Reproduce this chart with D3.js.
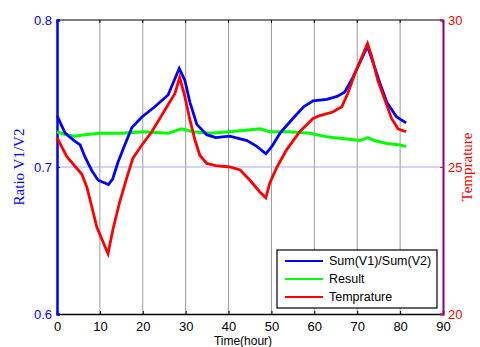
<!DOCTYPE html>
<html>
<head>
<meta charset="utf-8">
<script src="https://cdn.jsdelivr.net/npm/d3@7"></script>
<style>
  body { margin: 0; background: #fff; }
  text { font-family: "Liberation Sans", Arial, sans-serif; }
</style>
</head>
<body>
<div id="chart"></div>
<script>
// time axis ticks
var timeTicks = [0, 10, 20, 30, 40, 50, 60, 70, 80, 90];
var ratioTicks = [0.6, 0.7, 0.8];
var tempTicks = [20, 25, 30];

// Sum(V1)/Sum(V2)
var ratioT = [0, 1.9, 4, 5.4, 6.5, 8.2, 9.6, 12, 13, 14.2, 15.8, 17.5, 19.8, 22.8, 25.9, 28.5, 29.8, 31, 32.6, 34.9, 37, 40.3, 44.3, 46.6, 48.7, 50.1, 52, 55, 57.5, 59.7, 62.9, 65.3, 67.1, 69, 70.6, 72.4, 73.7, 75.3, 76.9, 79.2, 81.4];
var ratioV = [0.735, 0.723, 0.718, 0.715, 0.707, 0.697, 0.691, 0.688, 0.692, 0.703, 0.715, 0.727, 0.734, 0.741, 0.749, 0.767, 0.759, 0.744, 0.729, 0.722, 0.720, 0.721, 0.718, 0.714, 0.709, 0.714, 0.723, 0.733, 0.741, 0.745, 0.746, 0.748, 0.751, 0.761, 0.771, 0.782, 0.771, 0.757, 0.744, 0.734, 0.730];

// Result
var resultT = [0, 2, 4, 6.5, 10, 15, 20, 26, 29, 31.7, 35.7, 40.3, 44, 47.3, 49.6, 54, 59, 62, 64.3, 67.6, 70.6, 72.5, 74, 76.9, 80, 81.4];
var resultV = [0.724, 0.722, 0.721, 0.722, 0.723, 0.723, 0.724, 0.723, 0.726, 0.724, 0.723, 0.724, 0.725, 0.726, 0.724, 0.724, 0.723, 0.721, 0.720, 0.719, 0.718, 0.720, 0.718, 0.716, 0.715, 0.714];

// Temprature
var tempT = [0, 2.3, 5.8, 7, 9.3, 11.9, 13, 14.6, 16.3, 17.7, 19.8, 22.1, 25.2, 27.5, 28.6, 29.8, 31, 32.2, 33.3, 34.9, 37, 40.3, 42.7, 45, 47.3, 48.7, 49.6, 51.3, 53.6, 56.6, 59.7, 61.3, 64.3, 66.4, 67.8, 69.5, 71.1, 72.4, 73.4, 74.8, 76.4, 78, 79.5, 81.4];
var tempV = [26.0, 25.35, 24.75, 24.3, 22.95, 22.05, 22.85, 23.8, 24.65, 25.3, 25.75, 26.2, 26.95, 27.5, 28.05, 27.4, 26.6, 25.9, 25.4, 25.12, 25.05, 25.0, 24.9, 24.55, 24.15, 23.95, 24.45, 25.0, 25.6, 26.2, 26.65, 26.75, 26.87, 27.05, 27.5, 28.2, 28.75, 29.2, 28.75, 27.95, 27.3, 26.65, 26.3, 26.2];

var seriesNames = ["Sum(V1)/Sum(V2)", "Result", "Temprature"];
var seriesColors = ["#0000ff", "#00ff00", "#ff0000"];

var fullWidth = 480, fullHeight = 347;
var margin = {top: 20, right: 37, bottom: 33, left: 57};
var width = fullWidth - margin.left - margin.right;
var height = fullHeight - margin.top - margin.bottom;

var svg = d3.select("#chart").append("svg")
  .attr("width", fullWidth)
  .attr("height", fullHeight);

var g = svg.append("g")
  .attr("transform", "translate(" + margin.left + "," + margin.top + ")");

var x = d3.scaleLinear().domain([0, 90]).range([0, width]);
var yL = d3.scaleLinear().domain([0.6, 0.8]).range([height, 0]);
var yR = d3.scaleLinear().domain([20, 30]).range([height, 0]);

// grid
g.selectAll(".vgrid").data(timeTicks.slice(1, -1)).enter()
  .append("line")
  .attr("x1", function(d) { return x(d); })
  .attr("x2", function(d) { return x(d); })
  .attr("y1", 0).attr("y2", height)
  .attr("stroke", "#9a9a9a").attr("stroke-width", 1);

g.append("line")
  .attr("x1", 0).attr("x2", width)
  .attr("y1", yL(0.7)).attr("y2", yL(0.7))
  .attr("stroke", "#a8a8ff").attr("stroke-width", 1);

// top border
g.append("line")
  .attr("x1", 0).attr("x2", width)
  .attr("y1", 0).attr("y2", 0)
  .attr("stroke", "#000").attr("stroke-width", 1.2);

// bottom axis
var xAxis = g.append("g")
  .attr("transform", "translate(0," + height + ")")
  .call(d3.axisBottom(x).tickValues(timeTicks).tickSize(-3).tickPadding(8));
xAxis.select(".domain").attr("stroke-width", 1.5);
xAxis.selectAll("text").attr("font-size", 13).attr("fill", "#000");

// top ticks
g.selectAll(".ttick").data(timeTicks).enter()
  .append("line")
  .attr("x1", function(d) { return x(d); })
  .attr("x2", function(d) { return x(d); })
  .attr("y1", 0).attr("y2", 3)
  .attr("stroke", "#000");

// left axis
var leftAxis = g.append("g")
  .call(d3.axisLeft(yL).tickValues(ratioTicks).tickFormat(d3.format(".1f")).tickSize(-3).tickPadding(5));
leftAxis.select(".domain").attr("stroke", "#0000ff").attr("stroke-width", 2.5);
leftAxis.selectAll(".tick line").attr("stroke", "#0000ff");
leftAxis.selectAll("text").attr("font-size", 13).attr("fill", "#0000ff");

// right axis
var rightAxis = g.append("g")
  .attr("transform", "translate(" + width + ",0)")
  .call(d3.axisRight(yR).tickValues(tempTicks).tickSize(-3).tickPadding(5));
rightAxis.select(".domain").attr("stroke", "#800080").attr("stroke-width", 2);
rightAxis.selectAll(".tick line").attr("stroke", "#ff0000");
rightAxis.selectAll("text").attr("font-size", 13).attr("fill", "#ff0000");

// lines
var ratioLine = d3.line()
  .x(function(d) { return x(d[0]); })
  .y(function(d) { return yL(d[1]); });
var tempLine = d3.line()
  .x(function(d) { return x(d[0]); })
  .y(function(d) { return yR(d[1]); });

g.append("path")
  .datum(d3.zip(resultT, resultV))
  .attr("d", ratioLine)
  .attr("fill", "none").attr("stroke", seriesColors[1]).attr("stroke-width", 3);

g.append("path")
  .datum(d3.zip(ratioT, ratioV))
  .attr("d", ratioLine)
  .attr("fill", "none").attr("stroke", seriesColors[0]).attr("stroke-width", 2.8);

g.append("path")
  .datum(d3.zip(tempT, tempV))
  .attr("d", tempLine)
  .attr("fill", "none").attr("stroke", seriesColors[2]).attr("stroke-width", 2.8);

// axis labels
svg.append("text")
  .attr("transform", "translate(24," + (margin.top + height / 2) + ") rotate(-90)")
  .attr("text-anchor", "middle")
  .style("font-family", "'Liberation Serif', 'Times New Roman', serif")
  .attr("font-size", 15)
  .attr("fill", "#0000ff")
  .text("Ratio V1/V2");

svg.append("text")
  .attr("transform", "translate(472," + (margin.top + height / 2) + ") rotate(-90)")
  .attr("text-anchor", "middle")
  .style("font-family", "'Liberation Serif', 'Times New Roman', serif")
  .attr("font-size", 15)
  .attr("fill", "#ff0000")
  .text("Temprature");

svg.append("text")
  .attr("x", 243).attr("y", 345)
  .attr("text-anchor", "middle")
  .attr("font-size", 12)
  .attr("fill", "#000")
  .text("Time(hour)");

// legend
var legend = svg.append("g").attr("transform", "translate(277,250)");
legend.append("rect")
  .attr("width", 160).attr("height", 58)
  .attr("fill", "#fff").attr("stroke", "#000").attr("stroke-width", 1.2);
var rows = legend.selectAll(".row").data(seriesNames).enter()
  .append("g")
  .attr("transform", function(d, i) { return "translate(0," + (11 + i * 18) + ")"; });
rows.append("line")
  .attr("x1", 8).attr("x2", 46)
  .attr("stroke", function(d, i) { return seriesColors[i]; })
  .attr("stroke-width", 2);
rows.append("text")
  .attr("x", 52).attr("dy", "0.35em")
  .attr("font-size", 12.5)
  .attr("fill", "#000")
  .text(function(d) { return d; });
</script>
</body>
</html>
